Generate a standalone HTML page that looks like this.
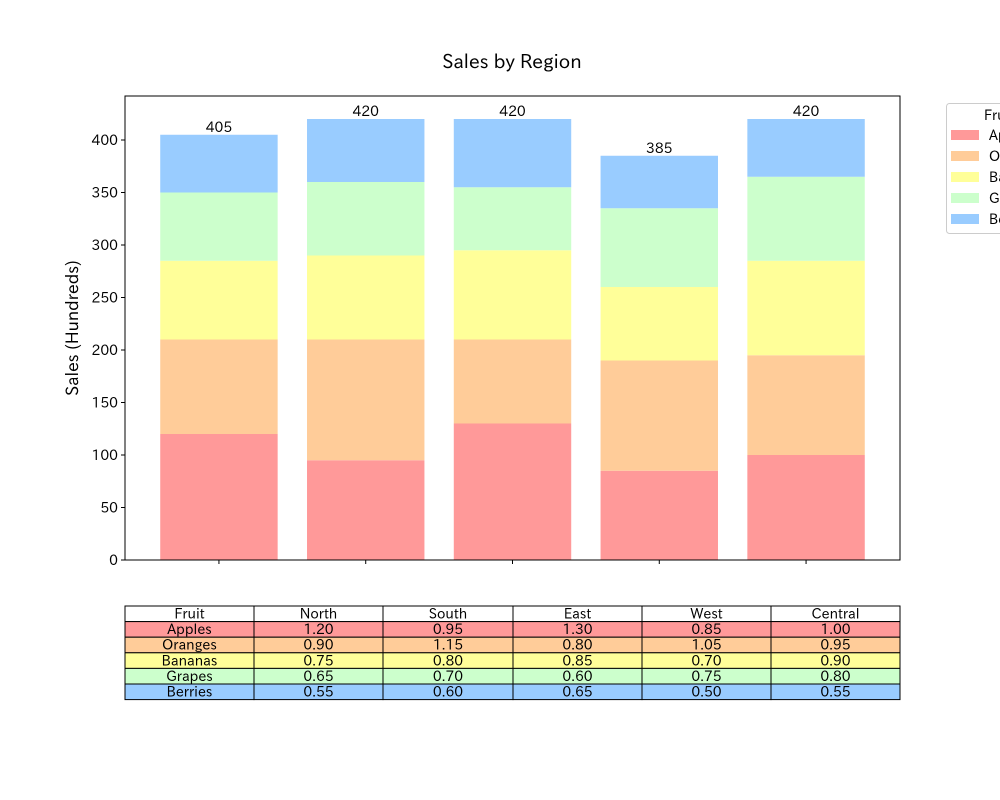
<!DOCTYPE html>
<html><head><meta charset="utf-8"><style>
body{margin:0;background:#fff;width:1000px;height:800px;overflow:hidden}
svg{display:block;font-family:"IPAPGothic","Liberation Sans",sans-serif}
</style></head><body>
<svg id="chart" width="1000" height="800" viewBox="0 0 1000 800">
<text x="512" y="68" font-size="19" text-anchor="middle">Sales by Region</text>
<g id="bars"></g>
<rect x="125" y="96" width="775" height="464" fill="none" stroke="#000" stroke-width="1"/>
<g id="yaxis"></g>
<text transform="translate(78,328) rotate(-90)" font-size="17" text-anchor="middle">Sales (Hundreds)</text>
<g id="legend"></g>
<g id="table"></g>
</svg>
<script>
const regions=["North","South","East","West","Central"];
const fruits=["Apples","Oranges","Bananas","Grapes","Berries"];
const colors=["#ff9999","#ffcc99","#ffff99","#ccffcc","#99ccff"];
const apples=[1.20,0.95,1.30,0.85,1.00];
const oranges=[0.90,1.15,0.80,1.05,0.95];
const bananas=[0.75,0.80,0.85,0.70,0.90];
const grapes=[0.65,0.70,0.60,0.75,0.80];
const berries=[0.55,0.60,0.65,0.50,0.55];
const yTicks=[0,50,100,150,200,250,300,350,400];
const series=[apples,oranges,bananas,grapes,berries];
const NS="http://www.w3.org/2000/svg";
function mk(tag,attrs,parent){const e=document.createElementNS(NS,tag);for(const k in attrs)e.setAttribute(k,attrs[k]);parent.appendChild(e);return e;}
const x0=125,x1=900,yTop=96,yBot=560;
const n=regions.length,xmin=-0.64,xmax=n-1+0.64;
function xs(i){return x0+(i-xmin)/(xmax-xmin)*(x1-x0);}
function ys(v){return yBot-v*1.05;}
const bw=0.8*(x1-x0)/(xmax-xmin);
const bars=document.getElementById('bars');
for(let i=0;i<n;i++){
  let cum=0;
  for(let s=0;s<series.length;s++){
    const v=Math.round(series[s][i]*100);
    const r=mk('rect',{x:xs(i)-bw/2,y:ys(cum+v),width:bw,height:ys(cum)-ys(cum+v),fill:colors[s]},bars);
    
    
    cum+=v;
  }
  const t=mk('text',{x:xs(i),y:ys(cum)-3,'font-size':14,'text-anchor':'middle'},bars);
  t.textContent=cum;
  
  
  const tk=mk('line',{x1:xs(i),x2:xs(i),y1:yBot,y2:yBot+4,stroke:'#000'},bars);
  
  
}
const ya=document.getElementById('yaxis');
yTicks.forEach(v=>{
  const l=mk('line',{x1:x0-4,x2:x0,y1:ys(v),y2:ys(v),stroke:'#000'},ya);
  
  
  const t=mk('text',{x:x0-7,y:ys(v)+5,'font-size':14,'text-anchor':'end'},ya);
  t.textContent=v;
  
  
});
const lg=document.getElementById('legend');
const lb=mk('rect',{x:946.5,y:103.5,width:80,height:130,rx:3,fill:'#fff',stroke:'#ccc'},lg);


const lt=mk('text',{x:984,y:120,'font-size':14},lg);
lt.textContent='Fruit';


fruits.forEach((f,k)=>{
  const yc=135+k*21;
  const p=mk('rect',{x:951,y:yc-5,width:28,height:10,fill:colors[k]},lg);
  
  
  const t=mk('text',{x:989,y:yc+5,'font-size':14},lg);
  t.textContent=f;
  
  
});
const tb=document.getElementById('table');
const cols=[125,254,383,513,642,771,900];
const rowH=15.6,tTop=606;
const header=["Fruit"].concat(regions);
function cell(r,c,txt,fill){
  const rr=mk('rect',{x:cols[c],y:tTop+r*rowH,width:cols[c+1]-cols[c],height:rowH,fill:fill,stroke:'#000','stroke-width':1},tb);
  
  
  const t=mk('text',{x:(cols[c]+cols[c+1])/2,y:tTop+r*rowH+12.5,'font-size':14,'text-anchor':'middle'},tb);
  t.textContent=txt;
  
  
}
header.forEach((h,c)=>cell(0,c,h,'#fff'));
fruits.forEach((f,s)=>{
  cell(s+1,0,f,colors[s]);
  series[s].forEach((v,i)=>cell(s+1,i+1,v.toFixed(2),colors[s]));
});
</script>
</body></html>
